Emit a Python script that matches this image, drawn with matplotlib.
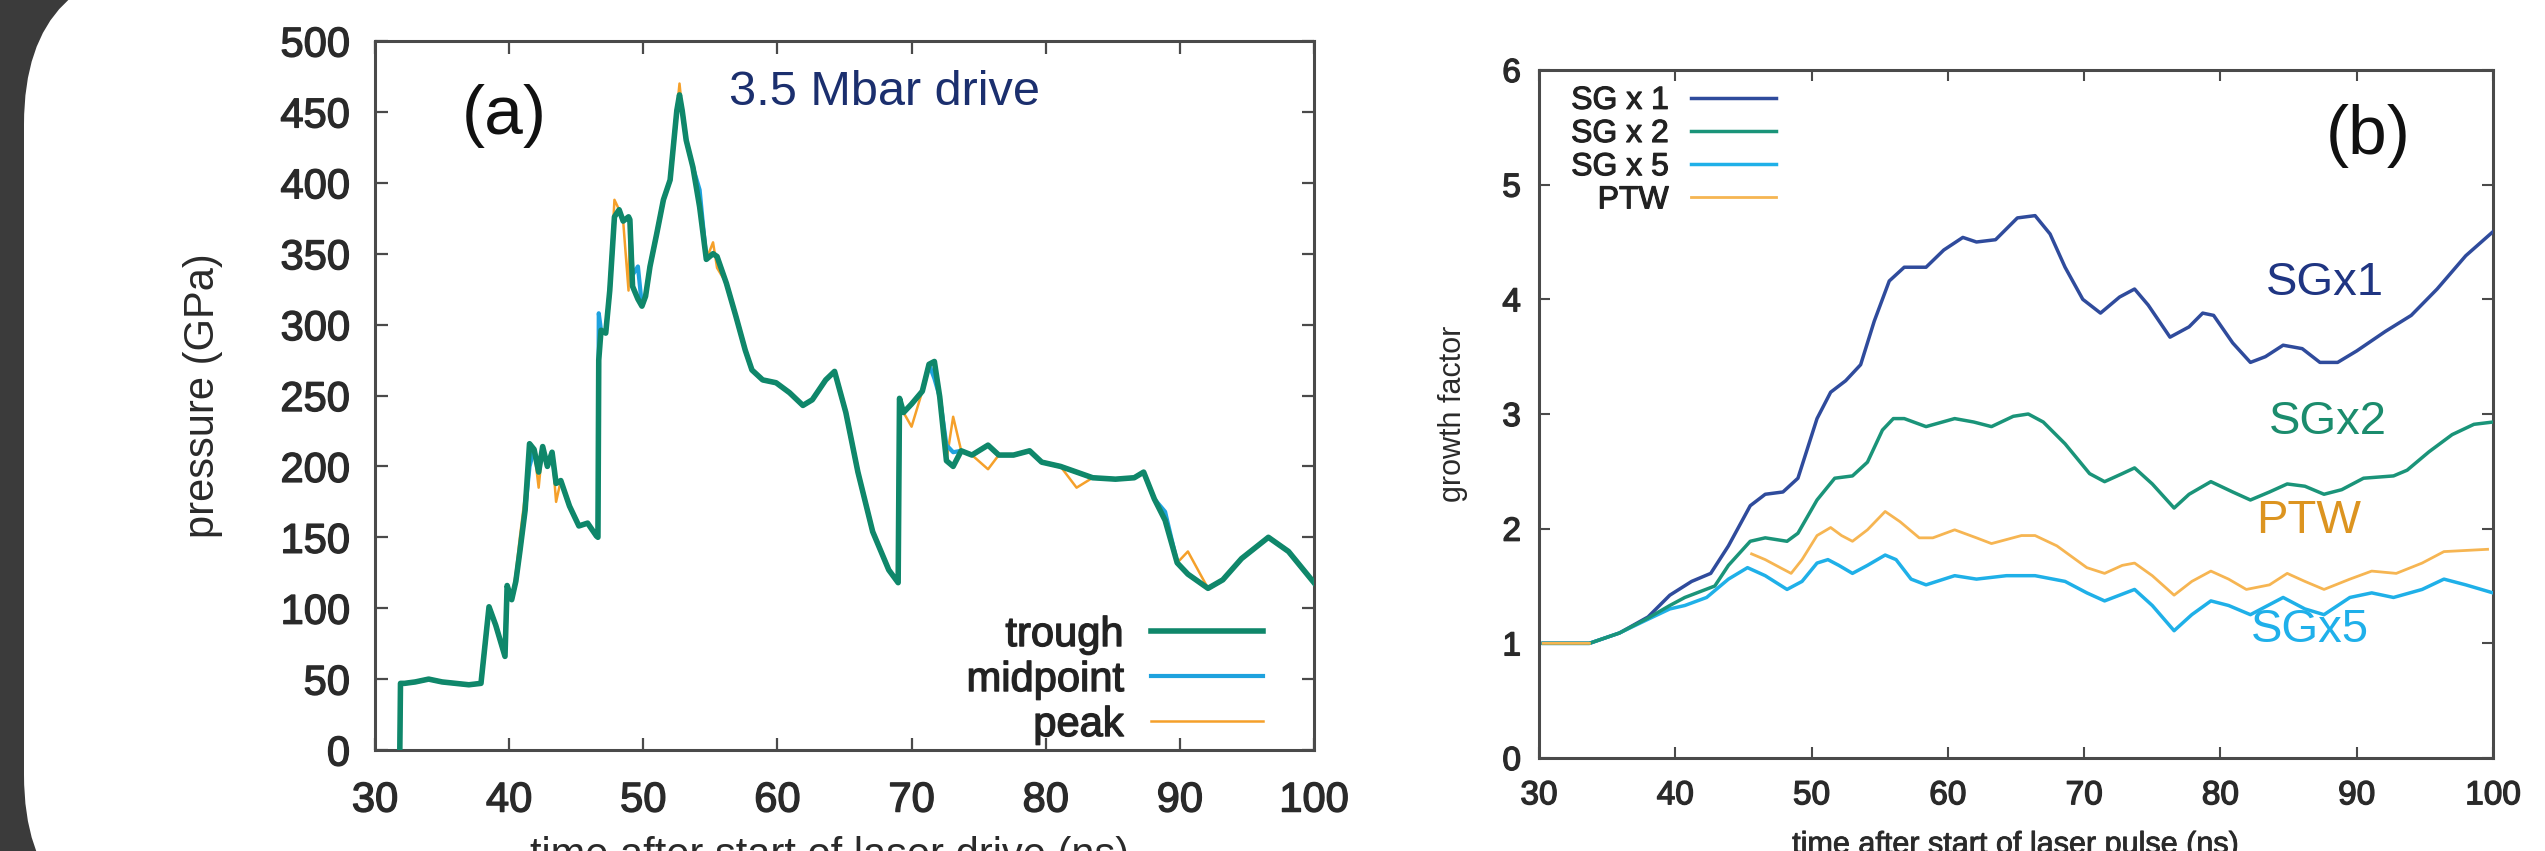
import numpy as np
import matplotlib
matplotlib.use("Agg")
import matplotlib.pyplot as plt
from matplotlib.patches import FancyBboxPatch
from matplotlib.transforms import IdentityTransform
from matplotlib import patheffects as pe

plt.rcParams['font.family'] = ['Liberation Sans', 'DejaVu Sans']

# ---------------- panel (a): pressure vs time ----------------
time_a = [31.85, 31.9, 32.2, 33.0, 34.0, 35.0, 36.0, 37.0, 37.9, 38.5, 39.0, 39.69, 39.85,
          40.19, 40.5, 40.8, 41.19, 41.52, 41.86, 42.2, 42.5, 42.85, 43.2, 43.5, 43.85,
          44.5, 45.2, 45.85, 46.5, 46.62, 46.68, 46.85, 47.2, 47.5, 47.85, 48.2, 48.5,
          48.9, 49.0, 49.2, 49.6, 49.9, 50.17, 50.5, 51.0, 51.5, 52.0, 52.5, 52.7, 52.9,
          53.2, 53.7, 54.2, 54.7, 55.2, 55.5, 56.2, 56.9, 57.6, 58.1, 58.9, 59.9, 60.9,
          61.9, 62.6, 63.6, 64.26, 65.1, 66.0, 67.1, 68.3, 69.0, 69.1, 69.4, 70.0, 70.8,
          71.3, 71.7, 72.1, 72.6, 73.1, 73.7, 74.5, 75.7, 76.5, 77.6, 78.8, 79.7, 81.1,
          82.3, 83.5, 85.2, 86.6, 87.3, 88.1, 88.9, 89.8, 90.6, 92.1, 93.2, 94.6, 96.6,
          98.1, 100.0]
trough = [0, 47, 47, 48, 50, 48, 47, 46, 47, 101, 88, 66, 116,
          106, 119, 140, 169, 216, 212, 196, 214, 200, 210, 188, 190,
          172, 158, 160, 151, 150, 275, 296, 294, 324, 376, 381, 373,
          376, 374, 327, 318, 313, 320, 341, 364, 388, 402, 451, 462, 451,
          430, 411, 383, 346, 350, 348, 329, 306, 282, 268, 261, 259, 252,
          243, 247, 261, 267, 238, 196, 154, 127, 118, 248, 238, 244, 253,
          272, 274, 249, 204, 200, 211, 208, 215, 208, 208, 211, 203, 200,
          196, 192, 191, 192, 196, 177, 162, 132, 124, 114, 120, 135, 150,
          140, 118]
midpoint = [0, 47, 47, 48, 50, 48, 47, 46, 47, 101, 88, 66, 116,
            106, 119, 140, 169, 200, 212, 196, 212, 200, 208, 188, 190,
            172, 158, 160, 151, 150, 308, 296, 294, 324, 376, 381, 373,
            376, 374, 335, 341, 313, 320, 341, 364, 388, 402, 451, 462, 451,
            430, 411, 395, 346, 350, 348, 329, 306, 282, 268, 261, 259, 252,
            243, 247, 261, 267, 238, 196, 154, 127, 118, 248, 238, 244, 253,
            272, 262, 249, 215, 210, 211, 208, 215, 208, 208, 211, 203, 200,
            196, 192, 191, 192, 196, 177, 168, 132, 124, 114, 120, 135, 150,
            140, 118]
peak = [0, 47, 47, 48, 50, 48, 47, 46, 47, 101, 88, 66, 116,
        106, 125, 150, 180, 205, 212, 185, 214, 200, 210, 175, 190,
        172, 158, 160, 151, 150, 275, 296, 294, 324, 388, 381, 373,
        324, 374, 327, 318, 313, 320, 341, 364, 388, 402, 451, 470, 451,
        430, 411, 385, 346, 358, 340, 329, 306, 282, 268, 261, 259, 252,
        243, 247, 261, 267, 238, 196, 154, 127, 118, 248, 238, 228, 253,
        272, 274, 249, 204, 235, 211, 208, 198, 208, 208, 211, 203, 200,
        185, 192, 191, 192, 196, 177, 162, 132, 140, 114, 120, 135, 150,
        140, 118]

# ---------------- panel (b): growth factor vs time ----------------
t_sg1 = [30.3, 33.7, 35.9, 38.0, 39.6, 41.2, 42.6, 43.9, 45.5, 46.6, 47.9, 49.0, 50.4,
         51.4, 52.5, 53.6, 54.6, 55.7, 56.8, 58.4, 59.7, 61.1, 62.1, 63.5, 65.1, 66.4,
         67.5, 68.6, 69.9, 71.2, 72.6, 73.7, 74.7, 76.3, 77.7, 78.7, 79.5, 80.9, 82.2,
         83.3, 84.6, 86.0, 87.3, 88.6, 90.0, 92.1, 94.0, 95.9, 98.0, 100.0]
sg1 = [1.0, 1.0, 1.09, 1.23, 1.42, 1.54, 1.61, 1.85, 2.2, 2.30, 2.32, 2.44, 2.96,
       3.19, 3.29, 3.43, 3.81, 4.16, 4.28, 4.28, 4.43, 4.54, 4.50, 4.52, 4.71, 4.73,
       4.57, 4.28, 4.0, 3.88, 4.02, 4.09, 3.95, 3.67, 3.76, 3.88, 3.86, 3.62, 3.45,
       3.50, 3.60, 3.57, 3.45, 3.45, 3.55, 3.72, 3.86, 4.09, 4.38, 4.59]

t_sg2 = [30.3, 33.7, 35.9, 38.0, 39.6, 40.7, 42.9, 43.9, 45.5, 46.6, 48.2, 49.0, 50.4,
         51.7, 53.0, 54.1, 55.2, 56.0, 56.8, 58.4, 60.5, 61.9, 63.2, 64.8, 65.9, 67.0,
         68.6, 70.4, 71.5, 72.8, 73.7, 75.0, 76.6, 77.7, 79.3, 80.9, 82.2, 83.6, 84.9,
         86.2, 87.6, 88.9, 90.5, 92.7, 93.7, 95.3, 97.0, 98.6, 100.0]
sg2 = [1.0, 1.0, 1.09, 1.22, 1.33, 1.40, 1.50, 1.68, 1.89, 1.92, 1.89, 1.96, 2.25,
       2.44, 2.46, 2.58, 2.86, 2.96, 2.96, 2.89, 2.96, 2.93, 2.89, 2.98, 3.0, 2.93,
       2.74, 2.48, 2.41, 2.48, 2.53, 2.39, 2.18, 2.30, 2.41, 2.32, 2.25, 2.32, 2.39,
       2.37, 2.30, 2.34, 2.44, 2.46, 2.51, 2.67, 2.82, 2.91, 2.93]

t_sg5 = [30.3, 33.7, 35.9, 38.0, 39.6, 40.7, 42.3, 43.9, 45.3, 46.6, 48.2, 49.3, 50.4,
         51.2, 52.0, 53.0, 54.1, 55.4, 56.2, 57.3, 58.4, 60.5, 62.1, 64.3, 66.4, 68.6,
         70.2, 71.5, 72.6, 73.7, 75.0, 76.6, 77.9, 79.3, 80.6, 82.2, 83.8, 84.6, 86.2,
         87.6, 89.5, 91.1, 92.7, 94.8, 96.4, 98.0, 100.0]
sg5 = [1.0, 1.0, 1.09, 1.21, 1.30, 1.33, 1.40, 1.56, 1.66, 1.59, 1.47, 1.54, 1.70,
       1.73, 1.68, 1.61, 1.68, 1.77, 1.73, 1.56, 1.51, 1.59, 1.56, 1.59, 1.59, 1.54,
       1.44, 1.37, 1.42, 1.47, 1.33, 1.11, 1.25, 1.37, 1.33, 1.25, 1.35, 1.40, 1.30,
       1.25, 1.40, 1.44, 1.40, 1.47, 1.56, 1.51, 1.44]

t_ptw = [30.3, 33.7, 34.5, 45.6, 46.6, 47.7, 48.5, 49.3, 50.4, 51.4, 52.2, 53.0, 54.1,
         55.4, 56.5, 57.9, 58.9, 60.5, 62.1, 63.2, 65.4, 66.4, 68.0, 70.2, 71.5, 72.8,
         73.7, 75.0, 76.6, 77.9, 79.3, 80.6, 81.9, 83.6, 84.9, 86.2, 87.6, 89.5, 91.1,
         92.9, 94.8, 96.4, 99.6]
ptw = [1.0, 1.0, np.nan, 1.78, 1.73, 1.66, 1.61, 1.73, 1.94, 2.01, 1.94, 1.89, 1.99,
       2.15, 2.06, 1.92, 1.92, 1.99, 1.92, 1.87, 1.94, 1.94, 1.85, 1.66, 1.61, 1.68,
       1.70, 1.59, 1.42, 1.54, 1.63, 1.56, 1.47, 1.51, 1.61, 1.54, 1.47, 1.56, 1.63,
       1.61, 1.70, 1.80, 1.82]

legend_a = ['trough', 'midpoint', 'peak']
legend_b = ['SG x 1', 'SG x 2', 'SG x 5', 'PTW']
xticks = [30, 40, 50, 60, 70, 80, 90, 100]
yticks_a = [0, 50, 100, 150, 200, 250, 300, 350, 400, 450, 500]
yticks_b = [0, 1, 2, 3, 4, 5, 6]

# ---------------- figure ----------------
W, H = 2545, 851
fig = plt.figure(figsize=(W / 100, H / 100), dpi=100, facecolor='#3b3b3b')
panel = FancyBboxPatch((24, -84), W + 400, 887 + 84,
                       boxstyle="round,pad=0,rounding_size=160",
                       transform=IdentityTransform(), facecolor='white',
                       edgecolor='none', zorder=-10)
fig.add_artist(panel)

axA = fig.add_axes([375 / W, 1 - 750 / H, 939 / W, 709 / H])
axB = fig.add_axes([1539 / W, 1 - 758 / H, 954 / W, 688 / H])

TXT = '#2a2a2a'
C_TR, C_MID, C_PK = '#0f876a', '#1ea2de', '#f5a02a'
lp, = axA.plot(time_a, peak, color=C_PK, lw=1.8, zorder=2)
lm, = axA.plot(time_a, midpoint, color=C_MID, lw=3.0, zorder=3)
lt, = axA.plot(time_a, trough, color=C_TR, lw=4.0, zorder=4)

C1, C2, C5, CP = '#2f4b9c', '#1a9479', '#1fb0e8', '#f6b552'
l1, = axB.plot(t_sg1, sg1, color=C1, lw=2.5, zorder=3)
l5, = axB.plot(t_sg5, sg5, color=C5, lw=2.5, zorder=3)
l2, = axB.plot(t_sg2, sg2, color=C2, lw=2.5, zorder=4)
lw_, = axB.plot(t_ptw, ptw, color=CP, lw=2.0, zorder=5)

for ax, yt, ylim in ((axA, yticks_a, (0, 500)), (axB, yticks_b, (0, 6))):
    ax.set_xlim(30, 100)
    ax.set_ylim(*ylim)
    ax.set_xticks(xticks)
    ax.set_yticks(yt)
    for s in ax.spines.values():
        s.set_linewidth(2.2)
        s.set_color('#4a4a4a')
    ax.set_facecolor('white')

axA.tick_params(direction='in', length=9, width=1.6, top=True, right=True,
                labelsize=30, labelcolor=TXT, color='#4a4a4a')
axA.tick_params(axis='x', pad=22)
axA.tick_params(axis='y', pad=18)
axB.tick_params(direction='in', length=8, width=1.5, top=True, right=True,
                labelsize=24, labelcolor=TXT, color='#4a4a4a')
axB.tick_params(axis='x', pad=16)
axB.tick_params(axis='y', pad=13)

thick = [pe.withStroke(linewidth=1.0, foreground=TXT)]
for ax in (axA, axB):
    for lab in ax.get_xticklabels() + ax.get_yticklabels():
        lab.set_path_effects(thick)

axA.set_xlabel('time after start of laser drive (ns)', fontsize=30, color=TXT)
axA.xaxis.set_label_coords(0.4846, -0.1213)
axA.xaxis.label.set_va('top')
axA.set_ylabel('pressure (GPa)', fontsize=30, color=TXT)
axA.yaxis.set_label_coords(-0.183, 0.5)
axA.yaxis.label.set_va('center')

axB.set_xlabel('time after start of laser pulse (ns)', fontsize=22, color=TXT)
axB.xaxis.set_label_coords(0.499, -0.1047)
axB.xaxis.label.set_va('top')
axB.xaxis.label.set_path_effects([pe.withStroke(linewidth=0.6, foreground=TXT)])
axB.set_ylabel('growth factor', fontsize=22, color=TXT)
axB.yaxis.set_label_coords(-0.090, 0.5)
axB.yaxis.label.set_va('center')

legA = axA.legend([lt, lm, lp], legend_a, loc='lower right', bbox_to_anchor=(0.9457, 0.007),
                  markerfirst=False, frameon=False, fontsize=30, handlelength=2.7,
                  handletextpad=0.65, labelspacing=0.12, borderpad=0, borderaxespad=0)
for t in legA.get_texts():
    t.set_color('#222222')
    t.set_path_effects(thick)
legB = axB.legend([l1, l2, l5, lw_], legend_b, loc='upper right', bbox_to_anchor=(0.2484, 0.977),
                  markerfirst=False, frameon=False, fontsize=23, handlelength=2.66,
                  handletextpad=0.69, labelspacing=0.1, borderpad=0, borderaxespad=0)
for t in legB.get_texts():
    t.set_color('#222222')
    t.set_path_effects([pe.withStroke(linewidth=0.8, foreground='#222222')])

axA.text(0.1374, 0.894, '(a)', transform=axA.transAxes, fontsize=50, ha='center', va='center', color='#111111')
axA.text(0.543, 0.928, '3.5 Mbar drive', transform=axA.transAxes, fontsize=35, ha='center', va='center', color='#1b2f6e')
axB.text(0.869, 0.904, '(b)', transform=axB.transAxes, fontsize=50, ha='center', va='center', color='#111111')

axB.text(87.7, 4.14, 'SGx1', fontsize=34, color='#1f3582', ha='center', va='center')
axB.text(87.9, 2.93, 'SGx2', fontsize=34, color='#1b8c6d', ha='center', va='center')
axB.text(86.5, 2.07, 'PTW', fontsize=34, color='#dc9420', ha='center', va='center')
axB.text(86.6, 1.12, 'SGx5', fontsize=34, color='#1fb0ea', ha='center', va='center')

fig.savefig('out.png', dpi=100, facecolor=fig.get_facecolor())
